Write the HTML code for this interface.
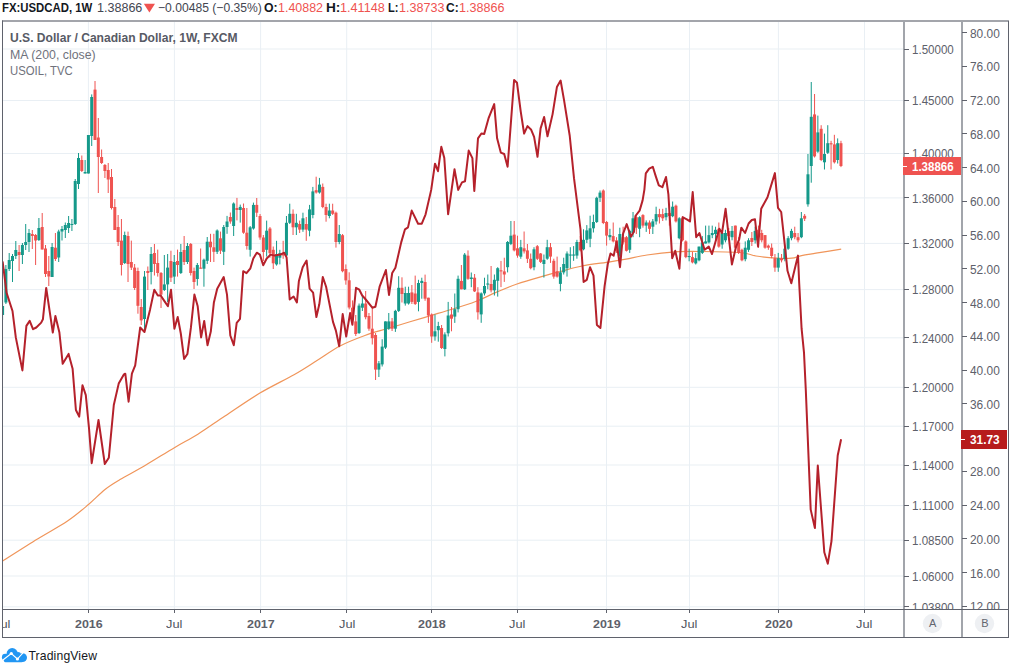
<!DOCTYPE html>
<html><head><meta charset="utf-8">
<style>
html,body{margin:0;padding:0;background:#fff;width:1009px;height:667px;overflow:hidden;}
body{position:relative;font-family:"Liberation Sans",sans-serif;color:#50535e;}
.abs{position:absolute;}
.t{position:absolute;white-space:nowrap;transform-origin:0 0;}
.tk{position:absolute;width:5px;height:1px;background:#5f626c;}
.tt{position:absolute;top:610px;width:1px;height:3px;background:#5f626c;}
</style></head><body>
<svg class="abs" style="left:0;top:0" width="1009" height="667" viewBox="0 0 1009 667">
<defs><clipPath id="cp"><rect x="3" y="22" width="900" height="587"/></clipPath></defs>
<g clip-path="url(#cp)">
<rect x="3" width="900" y="48.50" height="1" fill="#e9eff4"/>
<rect x="3" width="900" y="100.00" height="1" fill="#e9eff4"/>
<rect x="3" width="900" y="153.00" height="1" fill="#e9eff4"/>
<rect x="3" width="900" y="197.40" height="1" fill="#e9eff4"/>
<rect x="3" width="900" y="242.90" height="1" fill="#e9eff4"/>
<rect x="3" width="900" y="289.10" height="1" fill="#e9eff4"/>
<rect x="3" width="900" y="337.30" height="1" fill="#e9eff4"/>
<rect x="3" width="900" y="386.80" height="1" fill="#e9eff4"/>
<rect x="3" width="900" y="425.70" height="1" fill="#e9eff4"/>
<rect x="3" width="900" y="464.50" height="1" fill="#e9eff4"/>
<rect x="3" width="900" y="505.10" height="1" fill="#e9eff4"/>
<rect x="3" width="900" y="539.70" height="1" fill="#e9eff4"/>
<rect x="3" width="900" y="575.50" height="1" fill="#e9eff4"/>
<rect x="3" width="900" y="606.30" height="1" fill="#e9eff4"/>
<rect x="1.50" y="22" width="1" height="587" fill="#e9eff4"/>
<rect x="87.90" y="22" width="1" height="587" fill="#e9eff4"/>
<rect x="173.90" y="22" width="1" height="587" fill="#e9eff4"/>
<rect x="260.10" y="22" width="1" height="587" fill="#e9eff4"/>
<rect x="346.20" y="22" width="1" height="587" fill="#e9eff4"/>
<rect x="431.00" y="22" width="1" height="587" fill="#e9eff4"/>
<rect x="516.80" y="22" width="1" height="587" fill="#e9eff4"/>
<rect x="606.00" y="22" width="1" height="587" fill="#e9eff4"/>
<rect x="689.00" y="22" width="1" height="587" fill="#e9eff4"/>
<rect x="777.90" y="22" width="1" height="587" fill="#e9eff4"/>
<rect x="864.00" y="22" width="1" height="587" fill="#e9eff4"/>
<path d="M2.60,561.00 C8.42,557.33 26.68,545.67 37.50,539.00 C48.32,532.33 59.00,526.75 67.50,521.00 C76.00,515.25 82.25,509.75 88.50,504.50 C94.75,499.25 99.75,493.65 105.00,489.50 C110.25,485.35 113.32,483.60 120.00,479.60 C126.68,475.60 135.97,470.87 145.10,465.50 C154.23,460.13 166.00,452.62 174.80,447.40 C183.60,442.18 189.53,439.43 197.90,434.20 C206.27,428.97 214.73,422.82 225.00,416.00 C235.27,409.18 248.00,400.18 259.50,393.30 C271.00,386.42 284.42,380.17 294.00,374.70 C303.58,369.23 309.33,365.28 317.00,360.50 C324.67,355.72 332.02,350.17 340.00,346.00 C347.98,341.83 357.07,338.38 364.90,335.50 C372.73,332.62 379.48,330.98 387.00,328.70 C394.52,326.42 402.67,324.00 410.00,321.80 C417.33,319.60 424.00,317.60 431.00,315.50 C438.00,313.40 444.67,311.48 452.00,309.20 C459.33,306.92 467.67,304.60 475.00,301.80 C482.33,299.00 489.00,295.37 496.00,292.40 C503.00,289.43 508.83,286.80 517.00,284.00 C525.17,281.20 537.67,277.72 545.00,275.60 C552.33,273.48 554.83,272.90 561.00,271.30 C567.17,269.70 573.83,267.57 582.00,266.00 C590.17,264.43 602.67,263.03 610.00,261.90 C617.33,260.77 619.83,260.35 626.00,259.20 C632.17,258.05 638.83,256.22 647.00,255.00 C655.17,253.78 666.17,252.48 675.00,251.90 C683.83,251.32 689.17,251.40 700.00,251.50 C710.83,251.60 730.67,251.75 740.00,252.50 C749.33,253.25 749.83,255.05 756.00,256.00 C762.17,256.95 771.05,257.83 777.00,258.20 C782.95,258.57 787.60,258.63 791.70,258.20 C795.80,257.77 797.55,256.43 801.60,255.60 C805.65,254.77 809.40,254.28 816.00,253.20 C822.60,252.12 837.00,249.78 841.20,249.10" fill="none" stroke="#f0955a" stroke-width="1.2"/>
<rect x="2.09" y="300.0" width="1" height="20.0" fill="#15998a"/>
<rect x="1.09" y="306.0" width="3" height="9.0" fill="#15998a"/>
<rect x="5.39" y="265.0" width="1" height="39.0" fill="#15998a"/>
<rect x="4.39" y="269.0" width="3" height="33.5" fill="#15998a"/>
<rect x="8.69" y="253.0" width="1" height="18.0" fill="#15998a"/>
<rect x="7.69" y="260.0" width="3" height="9.0" fill="#15998a"/>
<rect x="12.00" y="254.0" width="1" height="28.0" fill="#15998a"/>
<rect x="11.00" y="256.0" width="3" height="5.0" fill="#15998a"/>
<rect x="15.30" y="241.0" width="1" height="18.0" fill="#15998a"/>
<rect x="14.30" y="250.0" width="3" height="6.0" fill="#15998a"/>
<rect x="18.60" y="245.0" width="1" height="26.0" fill="#ef5350"/>
<rect x="17.60" y="252.0" width="3" height="3.0" fill="#ef5350"/>
<rect x="21.90" y="243.0" width="1" height="21.0" fill="#15998a"/>
<rect x="20.90" y="245.0" width="3" height="10.0" fill="#15998a"/>
<rect x="25.20" y="224.0" width="1" height="26.0" fill="#15998a"/>
<rect x="24.20" y="242.0" width="3" height="3.0" fill="#15998a"/>
<rect x="28.50" y="229.0" width="1" height="23.0" fill="#15998a"/>
<rect x="27.50" y="233.0" width="3" height="9.0" fill="#15998a"/>
<rect x="31.80" y="230.0" width="1" height="19.0" fill="#ef5350"/>
<rect x="30.80" y="234.0" width="3" height="2.0" fill="#ef5350"/>
<rect x="35.10" y="234.0" width="1" height="31.0" fill="#ef5350"/>
<rect x="34.10" y="235.0" width="3" height="5.5" fill="#ef5350"/>
<rect x="38.40" y="218.0" width="1" height="23.0" fill="#15998a"/>
<rect x="37.40" y="228.0" width="3" height="12.0" fill="#15998a"/>
<rect x="41.70" y="213.0" width="1" height="36.5" fill="#ef5350"/>
<rect x="40.70" y="227.0" width="3" height="22.5" fill="#ef5350"/>
<rect x="45.00" y="245.0" width="1" height="32.0" fill="#ef5350"/>
<rect x="44.00" y="248.5" width="3" height="25.5" fill="#ef5350"/>
<rect x="48.30" y="256.0" width="1" height="30.0" fill="#ef5350"/>
<rect x="47.30" y="271.0" width="3" height="5.5" fill="#ef5350"/>
<rect x="51.60" y="243.0" width="1" height="34.0" fill="#15998a"/>
<rect x="50.60" y="247.0" width="3" height="30.0" fill="#15998a"/>
<rect x="54.90" y="233.0" width="1" height="28.0" fill="#ef5350"/>
<rect x="53.90" y="247.7" width="3" height="11.3" fill="#ef5350"/>
<rect x="58.20" y="229.7" width="1" height="32.3" fill="#15998a"/>
<rect x="57.20" y="231.5" width="3" height="26.0" fill="#15998a"/>
<rect x="61.50" y="226.0" width="1" height="14.5" fill="#15998a"/>
<rect x="60.50" y="229.0" width="3" height="2.5" fill="#15998a"/>
<rect x="64.81" y="222.5" width="1" height="15.5" fill="#15998a"/>
<rect x="63.81" y="225.0" width="3" height="5.0" fill="#15998a"/>
<rect x="68.11" y="216.0" width="1" height="17.0" fill="#15998a"/>
<rect x="67.11" y="223.0" width="3" height="5.0" fill="#15998a"/>
<rect x="71.41" y="219.0" width="1" height="12.0" fill="#15998a"/>
<rect x="70.41" y="224.0" width="3" height="1.0" fill="#15998a"/>
<rect x="74.71" y="179.0" width="1" height="46.0" fill="#15998a"/>
<rect x="73.71" y="181.0" width="3" height="43.0" fill="#15998a"/>
<rect x="78.01" y="153.0" width="1" height="36.0" fill="#15998a"/>
<rect x="77.01" y="158.0" width="3" height="26.0" fill="#15998a"/>
<rect x="81.31" y="155.5" width="1" height="16.5" fill="#ef5350"/>
<rect x="80.31" y="160.0" width="3" height="11.0" fill="#ef5350"/>
<rect x="84.61" y="160.0" width="1" height="13.5" fill="#15998a"/>
<rect x="83.61" y="172.0" width="3" height="1.5" fill="#15998a"/>
<rect x="87.91" y="135.0" width="1" height="38.5" fill="#15998a"/>
<rect x="86.91" y="135.0" width="3" height="38.5" fill="#15998a"/>
<rect x="91.21" y="94.4" width="1" height="51.6" fill="#15998a"/>
<rect x="90.21" y="97.0" width="3" height="39.0" fill="#15998a"/>
<rect x="94.51" y="81.0" width="1" height="59.0" fill="#ef5350"/>
<rect x="93.51" y="89.6" width="3" height="50.4" fill="#ef5350"/>
<rect x="97.81" y="118.0" width="1" height="75.0" fill="#ef5350"/>
<rect x="96.81" y="137.5" width="3" height="19.5" fill="#ef5350"/>
<rect x="101.11" y="149.5" width="1" height="14.5" fill="#ef5350"/>
<rect x="100.11" y="157.0" width="3" height="6.0" fill="#ef5350"/>
<rect x="104.41" y="164.0" width="1" height="14.0" fill="#ef5350"/>
<rect x="103.41" y="165.0" width="3" height="6.0" fill="#ef5350"/>
<rect x="107.71" y="163.0" width="1" height="30.0" fill="#ef5350"/>
<rect x="106.71" y="170.0" width="3" height="9.5" fill="#ef5350"/>
<rect x="111.01" y="169.0" width="1" height="40.5" fill="#ef5350"/>
<rect x="110.01" y="177.0" width="3" height="31.0" fill="#ef5350"/>
<rect x="114.32" y="199.0" width="1" height="31.0" fill="#ef5350"/>
<rect x="113.32" y="207.0" width="3" height="23.0" fill="#ef5350"/>
<rect x="117.62" y="215.0" width="1" height="31.0" fill="#ef5350"/>
<rect x="116.62" y="227.0" width="3" height="15.0" fill="#ef5350"/>
<rect x="120.92" y="219.0" width="1" height="56.5" fill="#ef5350"/>
<rect x="119.92" y="240.6" width="3" height="24.4" fill="#ef5350"/>
<rect x="124.22" y="231.6" width="1" height="32.4" fill="#15998a"/>
<rect x="123.22" y="235.0" width="3" height="28.0" fill="#15998a"/>
<rect x="127.52" y="231.6" width="1" height="50.4" fill="#ef5350"/>
<rect x="126.52" y="236.0" width="3" height="28.0" fill="#ef5350"/>
<rect x="130.82" y="240.6" width="1" height="29.4" fill="#ef5350"/>
<rect x="129.82" y="262.0" width="3" height="5.6" fill="#ef5350"/>
<rect x="134.12" y="264.0" width="1" height="26.0" fill="#ef5350"/>
<rect x="133.12" y="267.6" width="3" height="20.4" fill="#ef5350"/>
<rect x="137.42" y="267.6" width="1" height="46.1" fill="#ef5350"/>
<rect x="136.42" y="271.0" width="3" height="34.8" fill="#ef5350"/>
<rect x="140.72" y="299.0" width="1" height="26.0" fill="#ef5350"/>
<rect x="139.72" y="307.0" width="3" height="13.4" fill="#ef5350"/>
<rect x="144.02" y="271.0" width="1" height="59.5" fill="#15998a"/>
<rect x="143.02" y="276.6" width="3" height="42.4" fill="#15998a"/>
<rect x="147.32" y="266.5" width="1" height="23.5" fill="#ef5350"/>
<rect x="146.32" y="271.0" width="3" height="2.0" fill="#ef5350"/>
<rect x="150.62" y="247.0" width="1" height="37.4" fill="#15998a"/>
<rect x="149.62" y="254.0" width="3" height="18.0" fill="#15998a"/>
<rect x="153.92" y="244.0" width="1" height="31.5" fill="#ef5350"/>
<rect x="152.92" y="253.0" width="3" height="11.0" fill="#ef5350"/>
<rect x="157.22" y="249.6" width="1" height="27.0" fill="#ef5350"/>
<rect x="156.22" y="263.0" width="3" height="10.0" fill="#ef5350"/>
<rect x="160.52" y="272.0" width="1" height="36.0" fill="#ef5350"/>
<rect x="159.52" y="273.0" width="3" height="21.6" fill="#ef5350"/>
<rect x="163.83" y="255.0" width="1" height="36.0" fill="#15998a"/>
<rect x="162.83" y="284.4" width="3" height="5.6" fill="#15998a"/>
<rect x="167.13" y="254.0" width="1" height="48.0" fill="#15998a"/>
<rect x="166.13" y="267.6" width="3" height="16.8" fill="#15998a"/>
<rect x="170.43" y="250.7" width="1" height="31.3" fill="#ef5350"/>
<rect x="169.43" y="261.0" width="3" height="16.7" fill="#ef5350"/>
<rect x="173.73" y="255.0" width="1" height="29.0" fill="#15998a"/>
<rect x="172.73" y="262.0" width="3" height="14.6" fill="#15998a"/>
<rect x="177.03" y="249.6" width="1" height="27.0" fill="#ef5350"/>
<rect x="176.03" y="261.0" width="3" height="4.0" fill="#ef5350"/>
<rect x="180.33" y="244.0" width="1" height="30.0" fill="#15998a"/>
<rect x="179.33" y="252.0" width="3" height="21.0" fill="#15998a"/>
<rect x="183.63" y="236.0" width="1" height="29.0" fill="#ef5350"/>
<rect x="182.63" y="250.0" width="3" height="12.0" fill="#ef5350"/>
<rect x="186.93" y="243.0" width="1" height="21.0" fill="#15998a"/>
<rect x="185.93" y="246.0" width="3" height="16.0" fill="#15998a"/>
<rect x="190.23" y="243.0" width="1" height="32.5" fill="#ef5350"/>
<rect x="189.23" y="244.0" width="3" height="29.0" fill="#ef5350"/>
<rect x="193.53" y="267.6" width="1" height="21.4" fill="#ef5350"/>
<rect x="192.53" y="271.0" width="3" height="11.0" fill="#ef5350"/>
<rect x="196.83" y="263.0" width="1" height="22.6" fill="#15998a"/>
<rect x="195.83" y="265.0" width="3" height="14.0" fill="#15998a"/>
<rect x="200.13" y="248.5" width="1" height="20.2" fill="#ef5350"/>
<rect x="199.13" y="267.6" width="3" height="1.1" fill="#ef5350"/>
<rect x="203.43" y="258.6" width="1" height="28.1" fill="#15998a"/>
<rect x="202.43" y="259.7" width="3" height="9.0" fill="#15998a"/>
<rect x="206.73" y="237.0" width="1" height="27.0" fill="#15998a"/>
<rect x="205.73" y="241.7" width="3" height="19.1" fill="#15998a"/>
<rect x="210.03" y="233.8" width="1" height="28.2" fill="#ef5350"/>
<rect x="209.03" y="241.7" width="3" height="5.6" fill="#ef5350"/>
<rect x="213.34" y="233.8" width="1" height="28.2" fill="#ef5350"/>
<rect x="212.34" y="247.3" width="3" height="4.5" fill="#ef5350"/>
<rect x="216.64" y="229.4" width="1" height="24.6" fill="#15998a"/>
<rect x="215.64" y="230.5" width="3" height="21.3" fill="#15998a"/>
<rect x="219.94" y="231.6" width="1" height="22.4" fill="#ef5350"/>
<rect x="218.94" y="238.3" width="3" height="12.4" fill="#ef5350"/>
<rect x="223.24" y="225.0" width="1" height="40.0" fill="#15998a"/>
<rect x="222.24" y="227.0" width="3" height="24.8" fill="#15998a"/>
<rect x="226.54" y="215.9" width="1" height="17.9" fill="#15998a"/>
<rect x="225.54" y="221.5" width="3" height="5.5" fill="#15998a"/>
<rect x="229.84" y="212.5" width="1" height="11.2" fill="#ef5350"/>
<rect x="228.84" y="217.0" width="3" height="4.5" fill="#ef5350"/>
<rect x="233.14" y="202.4" width="1" height="33.6" fill="#15998a"/>
<rect x="232.14" y="203.5" width="3" height="22.5" fill="#15998a"/>
<rect x="236.44" y="197.9" width="1" height="22.5" fill="#ef5350"/>
<rect x="235.44" y="208.0" width="3" height="2.0" fill="#ef5350"/>
<rect x="239.74" y="204.6" width="1" height="18.0" fill="#15998a"/>
<rect x="238.74" y="206.9" width="3" height="3.1" fill="#15998a"/>
<rect x="243.04" y="203.5" width="1" height="30.3" fill="#ef5350"/>
<rect x="242.04" y="208.0" width="3" height="24.7" fill="#ef5350"/>
<rect x="246.34" y="208.0" width="1" height="41.6" fill="#ef5350"/>
<rect x="245.34" y="232.7" width="3" height="13.3" fill="#ef5350"/>
<rect x="249.64" y="226.0" width="1" height="30.6" fill="#15998a"/>
<rect x="248.64" y="227.3" width="3" height="22.5" fill="#15998a"/>
<rect x="252.94" y="202.6" width="1" height="27.0" fill="#15998a"/>
<rect x="251.94" y="204.9" width="3" height="23.6" fill="#15998a"/>
<rect x="256.24" y="198.0" width="1" height="19.0" fill="#ef5350"/>
<rect x="255.24" y="204.9" width="3" height="7.8" fill="#ef5350"/>
<rect x="259.54" y="214.0" width="1" height="25.7" fill="#ef5350"/>
<rect x="258.54" y="216.0" width="3" height="21.5" fill="#ef5350"/>
<rect x="262.84" y="235.0" width="1" height="26.0" fill="#ef5350"/>
<rect x="261.84" y="237.5" width="3" height="14.5" fill="#ef5350"/>
<rect x="266.15" y="220.6" width="1" height="36.0" fill="#15998a"/>
<rect x="265.15" y="230.7" width="3" height="19.1" fill="#15998a"/>
<rect x="269.45" y="227.0" width="1" height="30.7" fill="#ef5350"/>
<rect x="268.45" y="228.5" width="3" height="24.7" fill="#ef5350"/>
<rect x="272.75" y="246.5" width="1" height="22.5" fill="#ef5350"/>
<rect x="271.75" y="249.8" width="3" height="13.5" fill="#ef5350"/>
<rect x="276.05" y="240.8" width="1" height="24.8" fill="#15998a"/>
<rect x="275.05" y="254.3" width="3" height="10.1" fill="#15998a"/>
<rect x="279.35" y="249.8" width="1" height="14.6" fill="#15998a"/>
<rect x="278.35" y="253.2" width="3" height="4.5" fill="#15998a"/>
<rect x="282.65" y="240.8" width="1" height="18.0" fill="#ef5350"/>
<rect x="281.65" y="253.0" width="3" height="2.5" fill="#ef5350"/>
<rect x="285.95" y="216.0" width="1" height="40.6" fill="#15998a"/>
<rect x="284.95" y="222.8" width="3" height="32.7" fill="#15998a"/>
<rect x="289.25" y="203.7" width="1" height="20.3" fill="#15998a"/>
<rect x="288.25" y="213.8" width="3" height="9.0" fill="#15998a"/>
<rect x="292.55" y="209.4" width="1" height="25.6" fill="#ef5350"/>
<rect x="291.55" y="213.8" width="3" height="13.5" fill="#ef5350"/>
<rect x="295.85" y="213.8" width="1" height="21.2" fill="#15998a"/>
<rect x="294.85" y="222.8" width="3" height="4.5" fill="#15998a"/>
<rect x="299.15" y="220.6" width="1" height="12.4" fill="#ef5350"/>
<rect x="298.15" y="224.0" width="3" height="5.6" fill="#ef5350"/>
<rect x="302.45" y="212.7" width="1" height="19.1" fill="#15998a"/>
<rect x="301.45" y="218.3" width="3" height="11.3" fill="#15998a"/>
<rect x="305.75" y="217.0" width="1" height="23.8" fill="#ef5350"/>
<rect x="304.75" y="224.0" width="3" height="5.6" fill="#ef5350"/>
<rect x="309.05" y="204.9" width="1" height="31.4" fill="#15998a"/>
<rect x="308.05" y="209.4" width="3" height="21.3" fill="#15998a"/>
<rect x="312.35" y="186.9" width="1" height="31.4" fill="#15998a"/>
<rect x="311.35" y="191.4" width="3" height="23.6" fill="#15998a"/>
<rect x="315.66" y="176.7" width="1" height="16.9" fill="#ef5350"/>
<rect x="314.66" y="190.2" width="3" height="2.3" fill="#ef5350"/>
<rect x="318.96" y="177.9" width="1" height="15.7" fill="#15998a"/>
<rect x="317.96" y="184.6" width="3" height="7.9" fill="#15998a"/>
<rect x="322.26" y="183.5" width="1" height="24.7" fill="#ef5350"/>
<rect x="321.26" y="186.9" width="3" height="20.1" fill="#ef5350"/>
<rect x="325.56" y="203.7" width="1" height="18.0" fill="#ef5350"/>
<rect x="324.56" y="207.0" width="3" height="8.0" fill="#ef5350"/>
<rect x="328.86" y="203.7" width="1" height="14.6" fill="#15998a"/>
<rect x="327.86" y="210.5" width="3" height="5.5" fill="#15998a"/>
<rect x="332.16" y="203.7" width="1" height="11.3" fill="#ef5350"/>
<rect x="331.16" y="210.5" width="3" height="3.3" fill="#ef5350"/>
<rect x="335.46" y="211.6" width="1" height="36.0" fill="#ef5350"/>
<rect x="334.46" y="212.7" width="3" height="29.3" fill="#ef5350"/>
<rect x="338.76" y="225.0" width="1" height="19.2" fill="#15998a"/>
<rect x="337.76" y="234.0" width="3" height="8.0" fill="#15998a"/>
<rect x="342.06" y="234.0" width="1" height="38.3" fill="#ef5350"/>
<rect x="341.06" y="235.2" width="3" height="36.0" fill="#ef5350"/>
<rect x="345.36" y="264.4" width="1" height="20.3" fill="#ef5350"/>
<rect x="344.36" y="269.0" width="3" height="11.4" fill="#ef5350"/>
<rect x="348.66" y="272.3" width="1" height="37.1" fill="#ef5350"/>
<rect x="347.66" y="280.3" width="3" height="27.2" fill="#ef5350"/>
<rect x="351.96" y="300.4" width="1" height="21.0" fill="#ef5350"/>
<rect x="350.96" y="307.7" width="3" height="12.6" fill="#ef5350"/>
<rect x="355.26" y="315.0" width="1" height="21.0" fill="#ef5350"/>
<rect x="354.26" y="321.4" width="3" height="12.6" fill="#ef5350"/>
<rect x="358.56" y="303.5" width="1" height="30.5" fill="#15998a"/>
<rect x="357.56" y="305.6" width="3" height="27.4" fill="#15998a"/>
<rect x="361.86" y="295.0" width="1" height="16.0" fill="#15998a"/>
<rect x="360.86" y="303.5" width="3" height="4.2" fill="#15998a"/>
<rect x="365.17" y="291.0" width="1" height="28.3" fill="#ef5350"/>
<rect x="364.17" y="303.5" width="3" height="13.7" fill="#ef5350"/>
<rect x="368.47" y="313.0" width="1" height="17.8" fill="#ef5350"/>
<rect x="367.47" y="316.0" width="3" height="12.7" fill="#ef5350"/>
<rect x="371.77" y="307.7" width="1" height="36.8" fill="#ef5350"/>
<rect x="370.77" y="328.7" width="3" height="9.5" fill="#ef5350"/>
<rect x="375.07" y="333.0" width="1" height="47.0" fill="#ef5350"/>
<rect x="374.07" y="335.0" width="3" height="34.6" fill="#ef5350"/>
<rect x="378.37" y="361.0" width="1" height="16.0" fill="#15998a"/>
<rect x="377.37" y="363.3" width="3" height="6.3" fill="#15998a"/>
<rect x="381.67" y="339.2" width="1" height="27.3" fill="#15998a"/>
<rect x="380.67" y="346.6" width="3" height="17.8" fill="#15998a"/>
<rect x="384.97" y="321.4" width="1" height="27.6" fill="#15998a"/>
<rect x="383.97" y="321.4" width="3" height="26.2" fill="#15998a"/>
<rect x="388.27" y="313.0" width="1" height="16.8" fill="#15998a"/>
<rect x="387.27" y="321.4" width="3" height="7.3" fill="#15998a"/>
<rect x="391.57" y="318.0" width="1" height="13.0" fill="#ef5350"/>
<rect x="390.57" y="321.4" width="3" height="7.3" fill="#ef5350"/>
<rect x="394.87" y="309.8" width="1" height="22.1" fill="#15998a"/>
<rect x="393.87" y="310.9" width="3" height="17.8" fill="#15998a"/>
<rect x="398.17" y="276.2" width="1" height="35.8" fill="#15998a"/>
<rect x="397.17" y="287.8" width="3" height="23.1" fill="#15998a"/>
<rect x="401.47" y="277.3" width="1" height="25.2" fill="#ef5350"/>
<rect x="400.47" y="287.8" width="3" height="6.2" fill="#ef5350"/>
<rect x="404.77" y="286.7" width="1" height="18.9" fill="#15998a"/>
<rect x="403.77" y="293.0" width="3" height="10.5" fill="#15998a"/>
<rect x="408.07" y="286.7" width="1" height="17.9" fill="#15998a"/>
<rect x="407.07" y="293.0" width="3" height="10.5" fill="#15998a"/>
<rect x="411.37" y="285.0" width="1" height="19.0" fill="#ef5350"/>
<rect x="410.37" y="292.4" width="3" height="9.5" fill="#ef5350"/>
<rect x="414.68" y="275.6" width="1" height="29.4" fill="#ef5350"/>
<rect x="413.68" y="293.5" width="3" height="10.5" fill="#ef5350"/>
<rect x="417.98" y="279.8" width="1" height="31.5" fill="#15998a"/>
<rect x="416.98" y="283.0" width="3" height="18.9" fill="#15998a"/>
<rect x="421.28" y="277.7" width="1" height="21.0" fill="#15998a"/>
<rect x="420.28" y="280.9" width="3" height="2.1" fill="#15998a"/>
<rect x="424.58" y="274.6" width="1" height="26.2" fill="#ef5350"/>
<rect x="423.58" y="282.0" width="3" height="16.7" fill="#ef5350"/>
<rect x="427.88" y="297.7" width="1" height="25.2" fill="#ef5350"/>
<rect x="426.88" y="297.7" width="3" height="17.8" fill="#ef5350"/>
<rect x="431.18" y="313.4" width="1" height="29.4" fill="#ef5350"/>
<rect x="430.18" y="314.5" width="3" height="22.0" fill="#ef5350"/>
<rect x="434.48" y="314.5" width="1" height="26.2" fill="#15998a"/>
<rect x="433.48" y="331.3" width="3" height="5.2" fill="#15998a"/>
<rect x="437.78" y="321.8" width="1" height="19.9" fill="#15998a"/>
<rect x="436.78" y="326.0" width="3" height="4.2" fill="#15998a"/>
<rect x="441.08" y="325.0" width="1" height="24.0" fill="#ef5350"/>
<rect x="440.08" y="328.0" width="3" height="20.0" fill="#ef5350"/>
<rect x="444.38" y="332.3" width="1" height="24.1" fill="#15998a"/>
<rect x="443.38" y="334.4" width="3" height="14.6" fill="#15998a"/>
<rect x="447.68" y="301.9" width="1" height="34.6" fill="#15998a"/>
<rect x="446.68" y="315.5" width="3" height="17.8" fill="#15998a"/>
<rect x="450.98" y="307.0" width="1" height="24.3" fill="#ef5350"/>
<rect x="449.98" y="314.5" width="3" height="4.2" fill="#ef5350"/>
<rect x="454.28" y="293.5" width="1" height="29.4" fill="#15998a"/>
<rect x="453.28" y="309.2" width="3" height="7.4" fill="#15998a"/>
<rect x="457.58" y="275.6" width="1" height="36.8" fill="#15998a"/>
<rect x="456.58" y="278.8" width="3" height="30.4" fill="#15998a"/>
<rect x="460.88" y="265.0" width="1" height="24.3" fill="#ef5350"/>
<rect x="459.88" y="280.9" width="3" height="8.4" fill="#ef5350"/>
<rect x="464.19" y="253.0" width="1" height="37.0" fill="#15998a"/>
<rect x="463.19" y="254.6" width="3" height="34.7" fill="#15998a"/>
<rect x="467.49" y="250.4" width="1" height="29.4" fill="#ef5350"/>
<rect x="466.49" y="255.7" width="3" height="23.1" fill="#ef5350"/>
<rect x="470.79" y="272.5" width="1" height="14.7" fill="#15998a"/>
<rect x="469.79" y="277.5" width="3" height="1.5" fill="#15998a"/>
<rect x="474.09" y="274.0" width="1" height="18.0" fill="#ef5350"/>
<rect x="473.09" y="277.7" width="3" height="13.7" fill="#ef5350"/>
<rect x="477.39" y="287.2" width="1" height="32.4" fill="#ef5350"/>
<rect x="476.39" y="292.4" width="3" height="19.9" fill="#ef5350"/>
<rect x="480.69" y="292.4" width="1" height="30.4" fill="#15998a"/>
<rect x="479.69" y="293.4" width="3" height="21.0" fill="#15998a"/>
<rect x="483.99" y="277.7" width="1" height="17.8" fill="#15998a"/>
<rect x="482.99" y="286.0" width="3" height="7.4" fill="#15998a"/>
<rect x="487.29" y="274.5" width="1" height="14.7" fill="#15998a"/>
<rect x="486.29" y="283.5" width="3" height="1.1" fill="#15998a"/>
<rect x="490.59" y="266.0" width="1" height="26.4" fill="#ef5350"/>
<rect x="489.59" y="284.0" width="3" height="6.3" fill="#ef5350"/>
<rect x="493.89" y="274.5" width="1" height="21.0" fill="#15998a"/>
<rect x="492.89" y="279.8" width="3" height="10.5" fill="#15998a"/>
<rect x="497.19" y="267.2" width="1" height="29.4" fill="#15998a"/>
<rect x="496.19" y="268.2" width="3" height="12.6" fill="#15998a"/>
<rect x="500.49" y="260.9" width="1" height="26.2" fill="#ef5350"/>
<rect x="499.49" y="270.3" width="3" height="1.1" fill="#ef5350"/>
<rect x="503.79" y="257.7" width="1" height="24.2" fill="#ef5350"/>
<rect x="502.79" y="271.4" width="3" height="3.1" fill="#ef5350"/>
<rect x="507.09" y="241.0" width="1" height="31.4" fill="#15998a"/>
<rect x="506.09" y="242.0" width="3" height="25.2" fill="#15998a"/>
<rect x="510.39" y="221.0" width="1" height="24.1" fill="#15998a"/>
<rect x="509.39" y="235.7" width="3" height="8.3" fill="#15998a"/>
<rect x="513.69" y="221.0" width="1" height="30.4" fill="#ef5350"/>
<rect x="512.69" y="234.6" width="3" height="15.8" fill="#ef5350"/>
<rect x="517.00" y="235.7" width="1" height="22.0" fill="#ef5350"/>
<rect x="516.00" y="248.3" width="3" height="7.3" fill="#ef5350"/>
<rect x="520.30" y="239.9" width="1" height="18.9" fill="#15998a"/>
<rect x="519.30" y="247.2" width="3" height="9.5" fill="#15998a"/>
<rect x="523.60" y="231.5" width="1" height="22.0" fill="#ef5350"/>
<rect x="522.60" y="248.3" width="3" height="3.1" fill="#ef5350"/>
<rect x="526.90" y="244.0" width="1" height="19.0" fill="#ef5350"/>
<rect x="525.90" y="250.4" width="3" height="8.4" fill="#ef5350"/>
<rect x="530.20" y="253.5" width="1" height="15.8" fill="#ef5350"/>
<rect x="529.20" y="258.8" width="3" height="9.4" fill="#ef5350"/>
<rect x="533.50" y="247.2" width="1" height="23.1" fill="#15998a"/>
<rect x="532.50" y="249.3" width="3" height="17.9" fill="#15998a"/>
<rect x="536.80" y="245.0" width="1" height="15.0" fill="#ef5350"/>
<rect x="535.80" y="246.2" width="3" height="12.6" fill="#ef5350"/>
<rect x="540.10" y="253.0" width="1" height="10.0" fill="#ef5350"/>
<rect x="539.10" y="253.5" width="3" height="8.4" fill="#ef5350"/>
<rect x="543.40" y="254.5" width="1" height="23.1" fill="#15998a"/>
<rect x="542.40" y="259.8" width="3" height="4.2" fill="#15998a"/>
<rect x="546.70" y="239.8" width="1" height="20.0" fill="#15998a"/>
<rect x="545.70" y="247.2" width="3" height="11.5" fill="#15998a"/>
<rect x="550.00" y="243.0" width="1" height="19.9" fill="#ef5350"/>
<rect x="549.00" y="247.2" width="3" height="9.4" fill="#ef5350"/>
<rect x="553.30" y="258.7" width="1" height="20.0" fill="#ef5350"/>
<rect x="552.30" y="260.8" width="3" height="15.8" fill="#ef5350"/>
<rect x="556.60" y="256.6" width="1" height="21.0" fill="#ef5350"/>
<rect x="555.60" y="271.3" width="3" height="5.3" fill="#ef5350"/>
<rect x="559.90" y="267.1" width="1" height="24.2" fill="#15998a"/>
<rect x="558.90" y="272.4" width="3" height="11.5" fill="#15998a"/>
<rect x="563.20" y="257.7" width="1" height="16.8" fill="#15998a"/>
<rect x="562.20" y="264.0" width="3" height="8.4" fill="#15998a"/>
<rect x="566.51" y="251.4" width="1" height="25.2" fill="#15998a"/>
<rect x="565.51" y="253.5" width="3" height="14.7" fill="#15998a"/>
<rect x="569.81" y="247.2" width="1" height="21.0" fill="#15998a"/>
<rect x="568.81" y="254.5" width="3" height="1.1" fill="#15998a"/>
<rect x="573.11" y="246.1" width="1" height="14.7" fill="#15998a"/>
<rect x="572.11" y="254.5" width="3" height="1.1" fill="#15998a"/>
<rect x="576.41" y="239.8" width="1" height="18.9" fill="#15998a"/>
<rect x="575.41" y="242.0" width="3" height="13.6" fill="#15998a"/>
<rect x="579.71" y="236.0" width="1" height="15.4" fill="#ef5350"/>
<rect x="578.71" y="242.0" width="3" height="8.3" fill="#ef5350"/>
<rect x="583.01" y="229.3" width="1" height="21.0" fill="#15998a"/>
<rect x="582.01" y="239.8" width="3" height="9.5" fill="#15998a"/>
<rect x="586.31" y="225.1" width="1" height="17.9" fill="#15998a"/>
<rect x="585.31" y="230.4" width="3" height="9.4" fill="#15998a"/>
<rect x="589.61" y="215.7" width="1" height="31.5" fill="#15998a"/>
<rect x="588.61" y="228.3" width="3" height="10.5" fill="#15998a"/>
<rect x="592.91" y="214.6" width="1" height="17.9" fill="#15998a"/>
<rect x="591.91" y="222.0" width="3" height="6.3" fill="#15998a"/>
<rect x="596.21" y="196.7" width="1" height="26.3" fill="#15998a"/>
<rect x="595.21" y="197.8" width="3" height="24.2" fill="#15998a"/>
<rect x="599.51" y="190.5" width="1" height="11.5" fill="#15998a"/>
<rect x="598.51" y="192.6" width="3" height="5.2" fill="#15998a"/>
<rect x="602.81" y="189.4" width="1" height="34.7" fill="#ef5350"/>
<rect x="601.81" y="190.5" width="3" height="32.5" fill="#ef5350"/>
<rect x="606.11" y="221.0" width="1" height="24.6" fill="#ef5350"/>
<rect x="605.11" y="222.0" width="3" height="13.6" fill="#ef5350"/>
<rect x="609.41" y="228.8" width="1" height="11.5" fill="#15998a"/>
<rect x="608.41" y="235.0" width="3" height="2.2" fill="#15998a"/>
<rect x="612.71" y="222.5" width="1" height="19.9" fill="#ef5350"/>
<rect x="611.71" y="236.1" width="3" height="5.3" fill="#ef5350"/>
<rect x="616.02" y="237.2" width="1" height="15.7" fill="#ef5350"/>
<rect x="615.02" y="240.3" width="3" height="10.5" fill="#ef5350"/>
<rect x="619.32" y="227.7" width="1" height="35.7" fill="#15998a"/>
<rect x="618.32" y="234.0" width="3" height="22.0" fill="#15998a"/>
<rect x="622.62" y="226.7" width="1" height="17.8" fill="#ef5350"/>
<rect x="621.62" y="237.2" width="3" height="5.2" fill="#ef5350"/>
<rect x="625.92" y="236.0" width="1" height="15.5" fill="#ef5350"/>
<rect x="624.92" y="237.2" width="3" height="13.6" fill="#ef5350"/>
<rect x="629.22" y="229.8" width="1" height="23.1" fill="#15998a"/>
<rect x="628.22" y="230.9" width="3" height="18.9" fill="#15998a"/>
<rect x="632.52" y="212.0" width="1" height="25.2" fill="#15998a"/>
<rect x="631.52" y="218.3" width="3" height="14.7" fill="#15998a"/>
<rect x="635.82" y="215.1" width="1" height="18.9" fill="#ef5350"/>
<rect x="634.82" y="217.2" width="3" height="10.5" fill="#ef5350"/>
<rect x="639.12" y="216.2" width="1" height="21.0" fill="#15998a"/>
<rect x="638.12" y="217.2" width="3" height="11.6" fill="#15998a"/>
<rect x="642.42" y="214.1" width="1" height="13.6" fill="#ef5350"/>
<rect x="641.42" y="215.1" width="3" height="10.5" fill="#ef5350"/>
<rect x="645.72" y="220.4" width="1" height="11.5" fill="#15998a"/>
<rect x="644.72" y="222.5" width="3" height="3.1" fill="#15998a"/>
<rect x="649.02" y="220.4" width="1" height="13.6" fill="#ef5350"/>
<rect x="648.02" y="222.5" width="3" height="6.3" fill="#ef5350"/>
<rect x="652.32" y="219.0" width="1" height="15.0" fill="#15998a"/>
<rect x="651.32" y="221.4" width="3" height="5.3" fill="#15998a"/>
<rect x="655.62" y="206.7" width="1" height="17.9" fill="#15998a"/>
<rect x="654.62" y="214.1" width="3" height="7.3" fill="#15998a"/>
<rect x="658.92" y="208.8" width="1" height="14.7" fill="#ef5350"/>
<rect x="657.92" y="214.1" width="3" height="3.1" fill="#ef5350"/>
<rect x="662.22" y="208.8" width="1" height="12.2" fill="#ef5350"/>
<rect x="661.22" y="214.1" width="3" height="4.2" fill="#ef5350"/>
<rect x="665.53" y="207.8" width="1" height="12.6" fill="#15998a"/>
<rect x="664.53" y="213.0" width="3" height="4.2" fill="#15998a"/>
<rect x="668.83" y="206.7" width="1" height="18.9" fill="#ef5350"/>
<rect x="667.83" y="213.0" width="3" height="3.0" fill="#ef5350"/>
<rect x="672.13" y="201.5" width="1" height="15.7" fill="#15998a"/>
<rect x="671.13" y="206.7" width="3" height="9.5" fill="#15998a"/>
<rect x="675.43" y="204.6" width="1" height="17.9" fill="#ef5350"/>
<rect x="674.43" y="205.7" width="3" height="15.7" fill="#ef5350"/>
<rect x="678.73" y="217.2" width="1" height="22.1" fill="#15998a"/>
<rect x="677.73" y="218.3" width="3" height="19.9" fill="#15998a"/>
<rect x="682.03" y="216.2" width="1" height="25.2" fill="#ef5350"/>
<rect x="681.03" y="218.3" width="3" height="22.0" fill="#ef5350"/>
<rect x="685.33" y="240.3" width="1" height="17.9" fill="#ef5350"/>
<rect x="684.33" y="241.4" width="3" height="15.7" fill="#ef5350"/>
<rect x="688.63" y="248.7" width="1" height="12.6" fill="#15998a"/>
<rect x="687.63" y="256.0" width="3" height="1.1" fill="#15998a"/>
<rect x="691.93" y="251.9" width="1" height="11.5" fill="#ef5350"/>
<rect x="690.93" y="257.1" width="3" height="5.3" fill="#ef5350"/>
<rect x="695.23" y="252.9" width="1" height="11.6" fill="#15998a"/>
<rect x="694.23" y="258.2" width="3" height="5.2" fill="#15998a"/>
<rect x="698.53" y="246.6" width="1" height="14.7" fill="#15998a"/>
<rect x="697.53" y="246.6" width="3" height="13.7" fill="#15998a"/>
<rect x="701.83" y="236.1" width="1" height="17.9" fill="#15998a"/>
<rect x="700.83" y="242.4" width="3" height="10.5" fill="#15998a"/>
<rect x="705.13" y="225.6" width="1" height="17.9" fill="#15998a"/>
<rect x="704.13" y="241.4" width="3" height="2.1" fill="#15998a"/>
<rect x="708.43" y="225.6" width="1" height="17.9" fill="#15998a"/>
<rect x="707.43" y="235.1" width="3" height="7.3" fill="#15998a"/>
<rect x="711.73" y="225.6" width="1" height="12.6" fill="#15998a"/>
<rect x="710.73" y="233.0" width="3" height="2.1" fill="#15998a"/>
<rect x="715.03" y="226.7" width="1" height="13.6" fill="#15998a"/>
<rect x="714.03" y="229.8" width="3" height="4.2" fill="#15998a"/>
<rect x="718.34" y="222.5" width="1" height="25.2" fill="#ef5350"/>
<rect x="717.34" y="228.8" width="3" height="17.8" fill="#ef5350"/>
<rect x="721.64" y="231.9" width="1" height="16.8" fill="#15998a"/>
<rect x="720.64" y="233.0" width="3" height="11.5" fill="#15998a"/>
<rect x="724.94" y="229.8" width="1" height="12.6" fill="#15998a"/>
<rect x="723.94" y="233.0" width="3" height="7.3" fill="#15998a"/>
<rect x="728.24" y="228.0" width="1" height="12.0" fill="#ef5350"/>
<rect x="727.24" y="231.0" width="3" height="5.0" fill="#ef5350"/>
<rect x="731.54" y="226.0" width="1" height="14.3" fill="#15998a"/>
<rect x="730.54" y="230.9" width="3" height="6.3" fill="#15998a"/>
<rect x="734.84" y="225.6" width="1" height="24.2" fill="#ef5350"/>
<rect x="733.84" y="225.6" width="3" height="22.1" fill="#ef5350"/>
<rect x="738.14" y="237.2" width="1" height="16.8" fill="#ef5350"/>
<rect x="737.14" y="242.4" width="3" height="10.5" fill="#ef5350"/>
<rect x="741.44" y="248.7" width="1" height="12.6" fill="#ef5350"/>
<rect x="740.44" y="249.8" width="3" height="10.5" fill="#ef5350"/>
<rect x="744.74" y="241.4" width="1" height="19.9" fill="#15998a"/>
<rect x="743.74" y="247.7" width="3" height="11.5" fill="#15998a"/>
<rect x="748.04" y="238.2" width="1" height="13.7" fill="#15998a"/>
<rect x="747.04" y="240.3" width="3" height="9.5" fill="#15998a"/>
<rect x="751.34" y="232.0" width="1" height="14.0" fill="#ef5350"/>
<rect x="750.34" y="238.0" width="3" height="4.0" fill="#ef5350"/>
<rect x="754.64" y="226.7" width="1" height="16.8" fill="#15998a"/>
<rect x="753.64" y="230.9" width="3" height="9.4" fill="#15998a"/>
<rect x="757.94" y="225.6" width="1" height="22.1" fill="#ef5350"/>
<rect x="756.94" y="229.8" width="3" height="7.4" fill="#ef5350"/>
<rect x="761.24" y="229.8" width="1" height="12.6" fill="#ef5350"/>
<rect x="760.24" y="233.0" width="3" height="7.3" fill="#ef5350"/>
<rect x="764.54" y="235.1" width="1" height="13.6" fill="#ef5350"/>
<rect x="763.54" y="235.1" width="3" height="12.6" fill="#ef5350"/>
<rect x="767.85" y="244.5" width="1" height="5.3" fill="#ef5350"/>
<rect x="766.85" y="245.6" width="3" height="2.1" fill="#ef5350"/>
<rect x="771.15" y="243.5" width="1" height="14.7" fill="#ef5350"/>
<rect x="770.15" y="247.7" width="3" height="8.3" fill="#ef5350"/>
<rect x="774.45" y="254.0" width="1" height="17.8" fill="#ef5350"/>
<rect x="773.45" y="258.2" width="3" height="9.4" fill="#ef5350"/>
<rect x="777.75" y="252.9" width="1" height="18.9" fill="#15998a"/>
<rect x="776.75" y="258.2" width="3" height="9.4" fill="#15998a"/>
<rect x="781.05" y="254.0" width="1" height="8.4" fill="#ef5350"/>
<rect x="780.05" y="258.2" width="3" height="2.1" fill="#ef5350"/>
<rect x="784.35" y="244.5" width="1" height="16.8" fill="#15998a"/>
<rect x="783.35" y="248.7" width="3" height="10.5" fill="#15998a"/>
<rect x="787.65" y="236.1" width="1" height="13.7" fill="#15998a"/>
<rect x="786.65" y="238.2" width="3" height="10.5" fill="#15998a"/>
<rect x="790.95" y="228.8" width="1" height="11.5" fill="#15998a"/>
<rect x="789.95" y="230.9" width="3" height="7.3" fill="#15998a"/>
<rect x="794.25" y="226.7" width="1" height="12.6" fill="#ef5350"/>
<rect x="793.25" y="233.0" width="3" height="4.2" fill="#ef5350"/>
<rect x="797.55" y="233.0" width="1" height="9.4" fill="#ef5350"/>
<rect x="796.55" y="237.2" width="3" height="3.1" fill="#ef5350"/>
<rect x="800.85" y="212.0" width="1" height="26.2" fill="#15998a"/>
<rect x="799.85" y="218.3" width="3" height="18.9" fill="#15998a"/>
<rect x="804.15" y="214.0" width="1" height="7.0" fill="#ef5350"/>
<rect x="803.15" y="215.8" width="3" height="2.9" fill="#ef5350"/>
<rect x="807.45" y="154.0" width="1" height="52.7" fill="#15998a"/>
<rect x="806.45" y="174.3" width="3" height="30.0" fill="#15998a"/>
<rect x="810.75" y="82.0" width="1" height="100.7" fill="#15998a"/>
<rect x="809.75" y="116.8" width="3" height="49.2" fill="#15998a"/>
<rect x="814.05" y="94.0" width="1" height="63.5" fill="#ef5350"/>
<rect x="813.05" y="114.4" width="3" height="42.0" fill="#ef5350"/>
<rect x="817.36" y="115.6" width="1" height="37.2" fill="#15998a"/>
<rect x="816.36" y="132.4" width="3" height="19.2" fill="#15998a"/>
<rect x="820.66" y="125.2" width="1" height="35.9" fill="#ef5350"/>
<rect x="819.66" y="128.8" width="3" height="31.2" fill="#ef5350"/>
<rect x="823.96" y="133.6" width="1" height="35.9" fill="#15998a"/>
<rect x="822.96" y="154.0" width="3" height="8.3" fill="#15998a"/>
<rect x="827.26" y="125.2" width="1" height="28.8" fill="#15998a"/>
<rect x="826.26" y="143.2" width="3" height="9.6" fill="#15998a"/>
<rect x="830.56" y="140.8" width="1" height="28.7" fill="#ef5350"/>
<rect x="829.56" y="143.2" width="3" height="1.2" fill="#ef5350"/>
<rect x="833.86" y="134.8" width="1" height="28.7" fill="#ef5350"/>
<rect x="832.86" y="144.4" width="3" height="17.9" fill="#ef5350"/>
<rect x="837.16" y="138.4" width="1" height="25.1" fill="#15998a"/>
<rect x="836.16" y="143.2" width="3" height="16.8" fill="#15998a"/>
<rect x="840.46" y="140.8" width="1" height="26.3" fill="#ef5350"/>
<rect x="839.46" y="143.2" width="3" height="22.8" fill="#ef5350"/>
<polyline points="2.6,261.5 6.6,292.9 12.5,311.0 15.8,337.4 22.4,370.4 26.4,325.9 29.7,320.9 33.0,329.2 36.3,327.5 41.2,322.6 42.9,319.3 46.2,287.9 52.8,332.5 55.4,316.0 59.4,332.5 62.7,363.8 68.6,353.9 72.6,368.7 75.9,410.0 79.2,416.6 82.5,385.2 85.8,395.1 89.0,428.1 91.7,463.2 98.5,420.0 104.8,464.0 108.8,457.8 113.8,405.0 118.7,383.6 123.7,374.7 125.3,373.7 128.6,401.7 131.9,373.7 135.2,365.4 140.2,327.5 144.5,332.0 150.1,309.4 154.3,289.7 157.8,295.5 160.7,295.5 164.6,301.4 167.9,306.3 171.0,289.7 174.4,328.7 177.7,317.0 180.8,333.5 184.1,358.9 187.4,354.0 190.9,327.7 194.4,294.6 197.7,306.3 201.1,337.4 204.2,320.9 207.5,345.2 210.8,331.6 213.9,302.4 217.2,288.7 223.7,277.0 227.0,294.6 230.3,335.5 233.8,345.2 236.7,322.8 240.0,318.9 243.2,271.2 246.5,273.1 250.4,268.3 253.3,258.5 256.8,252.7 259.9,254.6 263.2,265.3 266.7,258.5 270.6,254.6 274.5,255.6 280.3,254.6 284.2,252.7 286.6,257.5 289.7,299.4 293.6,296.5 296.9,302.4 298.9,280.9 302.7,267.3 306.6,260.5 309.6,288.7 313.1,292.6 316.4,317.0 319.3,304.3 322.8,277.0 326.1,286.8 333.0,321.9 335.9,330.6 339.2,346.2 342.7,314.1 346.2,336.5 350.1,313.1 352.4,324.8 356.0,287.8 359.3,289.7 362.2,295.5 364.9,298.5 372.3,307.7 375.4,306.7 379.6,286.7 385.9,270.0 389.0,295.0 392.2,273.0 395.4,267.8 401.2,242.4 405.0,229.3 408.0,227.4 411.7,210.6 418.1,223.7 421.8,223.7 425.6,214.3 431.2,189.9 435.0,163.7 438.0,171.2 441.3,146.8 444.3,158.1 448.1,214.3 454.5,169.3 458.2,189.9 462.0,182.4 465.0,181.3 468.7,150.6 472.4,158.1 474.3,191.0 478.0,138.3 481.4,133.5 484.2,134.0 488.5,118.4 494.2,104.1 497.1,138.3 500.8,152.6 504.2,154.0 507.6,166.8 514.1,80.0 517.0,82.8 520.7,111.3 524.1,133.5 527.5,126.1 531.2,129.8 534.1,136.9 537.5,156.8 540.6,128.4 544.1,117.0 547.5,136.3 552.6,114.1 556.9,87.1 560.6,80.5 564.0,99.9 569.7,135.5 574.0,178.2 580.5,229.4 581.5,250.4 583.6,281.9 586.8,279.8 590.0,267.2 593.5,275.6 596.9,324.9 600.4,328.0 604.6,286.1 607.8,264.0 610.5,253.5 613.7,255.6 616.6,242.0 620.0,267.2 623.1,233.6 626.7,224.1 630.9,236.7 634.0,231.5 635.4,216.0 639.6,210.6 642.6,200.4 644.4,189.6 645.8,173.4 649.2,168.6 652.8,166.8 655.8,176.4 658.8,185.4 662.4,187.2 666.0,177.0 668.4,194.4 672.2,258.2 675.2,250.8 679.4,268.7 682.6,217.2 686.8,219.3 690.0,221.4 692.7,192.0 696.2,237.2 699.4,233.0 704.6,249.8 708.8,246.6 712.0,254.0 716.2,239.3 719.3,228.8 722.0,233.0 725.6,208.8 731.9,264.5 736.1,246.6 739.2,239.3 741.3,227.7 745.1,233.0 748.6,223.5 751.8,220.0 755.0,219.3 758.1,246.6 761.2,208.8 767.5,197.3 774.9,173.1 778.0,207.8 781.2,212.0 784.3,240.3 787.5,270.8 791.3,283.2 798.0,255.6 799.2,283.2 801.6,328.7 804.0,352.7 805.8,390.0 810.7,509.6 814.9,528.1 817.8,465.5 824.3,552.3 827.8,563.7 831.5,541.0 837.7,455.5 841.1,439.3" fill="none" stroke="#b5212b" stroke-width="2.0" stroke-linejoin="round"/>
</g>
<!-- frame -->
<rect x="2" y="20" width="1007" height="2" fill="#a3a5ab"/>
<rect x="2" y="20.5" width="1" height="617.5" fill="#5f626c"/>
<rect x="903" y="21" width="2" height="617" fill="#a2a5ab"/>
<rect x="961" y="21" width="2" height="617" fill="#a2a5ab"/>
<rect x="1008" y="21" width="1" height="617" fill="#5f626c"/>
<rect x="2" y="609" width="1007" height="1" fill="#5f626c"/>
<rect x="2" y="637" width="1007" height="1" fill="#5f626c"/>
<circle cx="932.5" cy="623.5" r="9.7" fill="#eef0f3"/>
<circle cx="984.5" cy="623.5" r="9.7" fill="#eef0f3"/>
<path d="M143.8 3.8 L155 3.8 L149.4 12.6 Z" fill="#ef5350"/>
</svg>
<div class="tt" style="left:1.50px"></div><div class="tt" style="left:87.90px"></div><div class="tt" style="left:173.90px"></div><div class="tt" style="left:260.10px"></div><div class="tt" style="left:346.20px"></div><div class="tt" style="left:431.00px"></div><div class="tt" style="left:516.80px"></div><div class="tt" style="left:606.00px"></div><div class="tt" style="left:689.00px"></div><div class="tt" style="left:777.90px"></div><div class="tt" style="left:864.00px"></div>
<div class="abs" style="left:0;top:0;width:1009px;height:609px;overflow:hidden;">
<div class="tk" style="left:904px;top:48.50px"></div><div class="tk" style="left:904px;top:100.00px"></div><div class="tk" style="left:904px;top:153.00px"></div><div class="tk" style="left:904px;top:197.40px"></div><div class="tk" style="left:904px;top:242.90px"></div><div class="tk" style="left:904px;top:289.10px"></div><div class="tk" style="left:904px;top:337.30px"></div><div class="tk" style="left:904px;top:386.80px"></div><div class="tk" style="left:904px;top:425.70px"></div><div class="tk" style="left:904px;top:464.50px"></div><div class="tk" style="left:904px;top:505.10px"></div><div class="tk" style="left:904px;top:539.70px"></div><div class="tk" style="left:904px;top:575.50px"></div><div class="tk" style="left:904px;top:606.30px"></div><div class="tk" style="left:962px;top:32.20px"></div><div class="tk" style="left:962px;top:65.95px"></div><div class="tk" style="left:962px;top:99.70px"></div><div class="tk" style="left:962px;top:133.45px"></div><div class="tk" style="left:962px;top:167.20px"></div><div class="tk" style="left:962px;top:200.95px"></div><div class="tk" style="left:962px;top:234.70px"></div><div class="tk" style="left:962px;top:268.45px"></div><div class="tk" style="left:962px;top:302.20px"></div><div class="tk" style="left:962px;top:335.95px"></div><div class="tk" style="left:962px;top:369.70px"></div><div class="tk" style="left:962px;top:403.45px"></div><div class="tk" style="left:962px;top:437.20px"></div><div class="tk" style="left:962px;top:470.95px"></div><div class="tk" style="left:962px;top:504.70px"></div><div class="tk" style="left:962px;top:538.45px"></div><div class="tk" style="left:962px;top:572.20px"></div><div class="tk" style="left:962px;top:605.95px"></div>
<div class="t" style="left:2.00px;top:1.97px;font-size:12.5px;line-height:12.5px;font-weight:bold;color:#131722;transform:scaleX(0.9092);">FX:USDCAD, 1W</div><div class="t" style="left:97.02px;top:1.97px;font-size:12.5px;line-height:12.5px;font-weight:normal;color:#434651;transform:scaleX(1.0037);">1.38866</div><div class="t" style="left:157.55px;top:1.97px;font-size:12.5px;line-height:12.5px;font-weight:normal;color:#434651;transform:scaleX(0.9698);">&minus;0.00485 (&minus;0.35%)</div><div class="t" style="left:263.94px;top:1.97px;font-size:12.5px;line-height:12.5px;font-weight:bold;color:#131722;transform:scaleX(0.9802);">O:</div><div class="t" style="left:278.13px;top:1.97px;font-size:12.5px;line-height:12.5px;font-weight:normal;color:#ef5350;transform:scaleX(0.9968);">1.40882</div><div class="t" style="left:325.75px;top:1.97px;font-size:12.5px;line-height:12.5px;font-weight:bold;color:#131722;transform:scaleX(1.0914);">H:</div><div class="t" style="left:339.81px;top:1.97px;font-size:12.5px;line-height:12.5px;font-weight:normal;color:#ef5350;transform:scaleX(1.0137);">1.41148</div><div class="t" style="left:388.13px;top:1.97px;font-size:12.5px;line-height:12.5px;font-weight:bold;color:#131722;transform:scaleX(0.8845);">L:</div><div class="t" style="left:398.72px;top:1.97px;font-size:12.5px;line-height:12.5px;font-weight:normal;color:#ef5350;transform:scaleX(1.0060);">1.38733</div><div class="t" style="left:446.26px;top:1.97px;font-size:12.5px;line-height:12.5px;font-weight:bold;color:#131722;transform:scaleX(0.9604);">C:</div><div class="t" style="left:458.72px;top:1.97px;font-size:12.5px;line-height:12.5px;font-weight:normal;color:#ef5350;transform:scaleX(1.0060);">1.38866</div><div class="t" style="left:10.15px;top:32.13px;font-size:12px;line-height:12px;font-weight:bold;color:#575a65;transform:scaleX(1.0068);">U.S. Dollar / Canadian Dollar, 1W, FXCM</div><div class="t" style="left:10.24px;top:48.83px;font-size:12px;line-height:12px;font-weight:normal;color:#6f727c;transform:scaleX(1.0270);">MA (200, close)</div><div class="t" style="left:10.31px;top:65.03px;font-size:12px;line-height:12px;font-weight:normal;color:#6f727c;transform:scaleX(0.9446);">USOIL, TVC</div><div class="t" style="left:911.89px;top:43.73px;font-size:12px;line-height:12px;font-weight:normal;color:#5d606a;transform:scaleX(0.9638);">1.50000</div><div class="t" style="left:911.89px;top:95.23px;font-size:12px;line-height:12px;font-weight:normal;color:#5d606a;transform:scaleX(0.9638);">1.45000</div><div class="t" style="left:911.89px;top:148.23px;font-size:12px;line-height:12px;font-weight:normal;color:#5d606a;transform:scaleX(0.9638);">1.40000</div><div class="t" style="left:911.89px;top:192.63px;font-size:12px;line-height:12px;font-weight:normal;color:#5d606a;transform:scaleX(0.9638);">1.36000</div><div class="t" style="left:911.89px;top:238.13px;font-size:12px;line-height:12px;font-weight:normal;color:#5d606a;transform:scaleX(0.9638);">1.32000</div><div class="t" style="left:911.89px;top:284.33px;font-size:12px;line-height:12px;font-weight:normal;color:#5d606a;transform:scaleX(0.9638);">1.28000</div><div class="t" style="left:911.89px;top:332.53px;font-size:12px;line-height:12px;font-weight:normal;color:#5d606a;transform:scaleX(0.9638);">1.24000</div><div class="t" style="left:911.89px;top:382.03px;font-size:12px;line-height:12px;font-weight:normal;color:#5d606a;transform:scaleX(0.9638);">1.20000</div><div class="t" style="left:911.89px;top:420.93px;font-size:12px;line-height:12px;font-weight:normal;color:#5d606a;transform:scaleX(0.9638);">1.17000</div><div class="t" style="left:911.89px;top:459.73px;font-size:12px;line-height:12px;font-weight:normal;color:#5d606a;transform:scaleX(0.9638);">1.14000</div><div class="t" style="left:911.87px;top:500.33px;font-size:12px;line-height:12px;font-weight:normal;color:#5d606a;transform:scaleX(0.9848);">1.11000</div><div class="t" style="left:911.89px;top:534.93px;font-size:12px;line-height:12px;font-weight:normal;color:#5d606a;transform:scaleX(0.9638);">1.08500</div><div class="t" style="left:911.89px;top:570.73px;font-size:12px;line-height:12px;font-weight:normal;color:#5d606a;transform:scaleX(0.9638);">1.06000</div><div class="t" style="left:911.89px;top:601.53px;font-size:12px;line-height:12px;font-weight:normal;color:#5d606a;transform:scaleX(0.9638);">1.03800</div><div class="t" style="left:970.17px;top:27.73px;font-size:12px;line-height:12px;font-weight:normal;color:#5d606a;transform:scaleX(0.9911);">80.00</div><div class="t" style="left:970.17px;top:61.48px;font-size:12px;line-height:12px;font-weight:normal;color:#5d606a;transform:scaleX(0.9911);">76.00</div><div class="t" style="left:970.17px;top:95.23px;font-size:12px;line-height:12px;font-weight:normal;color:#5d606a;transform:scaleX(0.9911);">72.00</div><div class="t" style="left:970.17px;top:128.98px;font-size:12px;line-height:12px;font-weight:normal;color:#5d606a;transform:scaleX(0.9911);">68.00</div><div class="t" style="left:970.17px;top:162.73px;font-size:12px;line-height:12px;font-weight:normal;color:#5d606a;transform:scaleX(0.9911);">64.00</div><div class="t" style="left:970.17px;top:196.48px;font-size:12px;line-height:12px;font-weight:normal;color:#5d606a;transform:scaleX(0.9911);">60.00</div><div class="t" style="left:970.17px;top:230.23px;font-size:12px;line-height:12px;font-weight:normal;color:#5d606a;transform:scaleX(0.9911);">56.00</div><div class="t" style="left:970.17px;top:263.98px;font-size:12px;line-height:12px;font-weight:normal;color:#5d606a;transform:scaleX(0.9911);">52.00</div><div class="t" style="left:970.17px;top:297.73px;font-size:12px;line-height:12px;font-weight:normal;color:#5d606a;transform:scaleX(0.9911);">48.00</div><div class="t" style="left:970.17px;top:331.48px;font-size:12px;line-height:12px;font-weight:normal;color:#5d606a;transform:scaleX(0.9911);">44.00</div><div class="t" style="left:970.17px;top:365.23px;font-size:12px;line-height:12px;font-weight:normal;color:#5d606a;transform:scaleX(0.9911);">40.00</div><div class="t" style="left:970.17px;top:398.98px;font-size:12px;line-height:12px;font-weight:normal;color:#5d606a;transform:scaleX(0.9911);">36.00</div><div class="t" style="left:970.17px;top:432.73px;font-size:12px;line-height:12px;font-weight:normal;color:#5d606a;transform:scaleX(0.9911);">32.00</div><div class="t" style="left:970.17px;top:466.48px;font-size:12px;line-height:12px;font-weight:normal;color:#5d606a;transform:scaleX(0.9911);">28.00</div><div class="t" style="left:970.17px;top:500.23px;font-size:12px;line-height:12px;font-weight:normal;color:#5d606a;transform:scaleX(0.9911);">24.00</div><div class="t" style="left:970.17px;top:533.98px;font-size:12px;line-height:12px;font-weight:normal;color:#5d606a;transform:scaleX(0.9911);">20.00</div><div class="t" style="left:970.17px;top:567.73px;font-size:12px;line-height:12px;font-weight:normal;color:#5d606a;transform:scaleX(0.9911);">16.00</div><div class="t" style="left:970.17px;top:601.48px;font-size:12px;line-height:12px;font-weight:normal;color:#5d606a;transform:scaleX(0.9911);">12.00</div>
<div class="abs" style="left:961px;top:438.7px;width:4px;height:1px;background:#fff;z-index:2"></div><div class="abs" style="left:903px;top:157px;width:58px;height:18px;background:#ef5350;"></div><div class="abs" style="left:903px;top:165.5px;width:4px;height:1px;background:#fff;"></div><div class="abs" style="left:961px;top:430px;width:46px;height:19px;background:#b71c1c;"></div><div class="t" style="left:912.39px;top:160.73px;font-size:12px;line-height:12px;font-weight:bold;color:#ffffff;transform:scaleX(0.9590);">1.38866</div><div class="t" style="left:970.17px;top:433.83px;font-size:12px;line-height:12px;font-weight:bold;color:#ffffff;transform:scaleX(0.9876);">31.73</div>
</div>
<div class="abs" style="left:3px;top:610px;width:900px;height:27px;overflow:hidden;"><div class="abs" style="left:-3px;top:-610px;width:1009px;height:667px;">
<div class="t" style="left:-6.20px;top:619.20px;font-size:11.5px;line-height:11.5px;font-weight:normal;color:#50535e;transform:scaleX(1.1151);">Jul</div><div class="t" style="left:74.53px;top:619.20px;font-size:11.5px;line-height:11.5px;font-weight:bold;color:#5d606a;transform:scaleX(1.0841);">2016</div><div class="t" style="left:166.20px;top:619.20px;font-size:11.5px;line-height:11.5px;font-weight:normal;color:#50535e;transform:scaleX(1.1151);">Jul</div><div class="t" style="left:246.73px;top:619.20px;font-size:11.5px;line-height:11.5px;font-weight:bold;color:#5d606a;transform:scaleX(1.0841);">2017</div><div class="t" style="left:338.50px;top:619.20px;font-size:11.5px;line-height:11.5px;font-weight:normal;color:#50535e;transform:scaleX(1.1151);">Jul</div><div class="t" style="left:417.63px;top:619.20px;font-size:11.5px;line-height:11.5px;font-weight:bold;color:#5d606a;transform:scaleX(1.0841);">2018</div><div class="t" style="left:509.10px;top:619.20px;font-size:11.5px;line-height:11.5px;font-weight:normal;color:#50535e;transform:scaleX(1.1151);">Jul</div><div class="t" style="left:592.63px;top:619.20px;font-size:11.5px;line-height:11.5px;font-weight:bold;color:#5d606a;transform:scaleX(1.0841);">2019</div><div class="t" style="left:681.30px;top:619.20px;font-size:11.5px;line-height:11.5px;font-weight:normal;color:#50535e;transform:scaleX(1.1151);">Jul</div><div class="t" style="left:764.53px;top:619.20px;font-size:11.5px;line-height:11.5px;font-weight:bold;color:#5d606a;transform:scaleX(1.0841);">2020</div><div class="t" style="left:856.30px;top:619.20px;font-size:11.5px;line-height:11.5px;font-weight:normal;color:#50535e;transform:scaleX(1.1151);">Jul</div>
</div></div>
<div class="t" style="left:929px;top:617px;font-size:11px;line-height:12px;color:#62656f;">A</div>
<div class="t" style="left:981.3px;top:617px;font-size:11px;line-height:12px;color:#62656f;">B</div>
<svg class="abs" style="left:0;top:640px" width="30" height="27" viewBox="0 0 30 27">
<g fill="#2196f3">
<circle cx="5.3" cy="17.2" r="3.4"/>
<circle cx="12.2" cy="13.6" r="5.6"/>
<circle cx="22.6" cy="17.6" r="4.4"/>
<circle cx="18" cy="15" r="3"/>
<rect x="4" y="15" width="19" height="7.3" rx="1.5"/>
</g>
<polyline points="2.6,20.2 11.3,13.5 17.4,19 23.2,12.6" fill="none" stroke="#fff" stroke-width="1.1"/>
<circle cx="11.3" cy="13.5" r="1.6" fill="#fff"/>
<circle cx="17.4" cy="19" r="1.6" fill="#fff"/>
</svg>
<div class="t" style="left:28.4px;top:649.5px;font-size:12.2px;line-height:12px;letter-spacing:0.15px;color:#131722;">TradingView</div>
</body></html>
